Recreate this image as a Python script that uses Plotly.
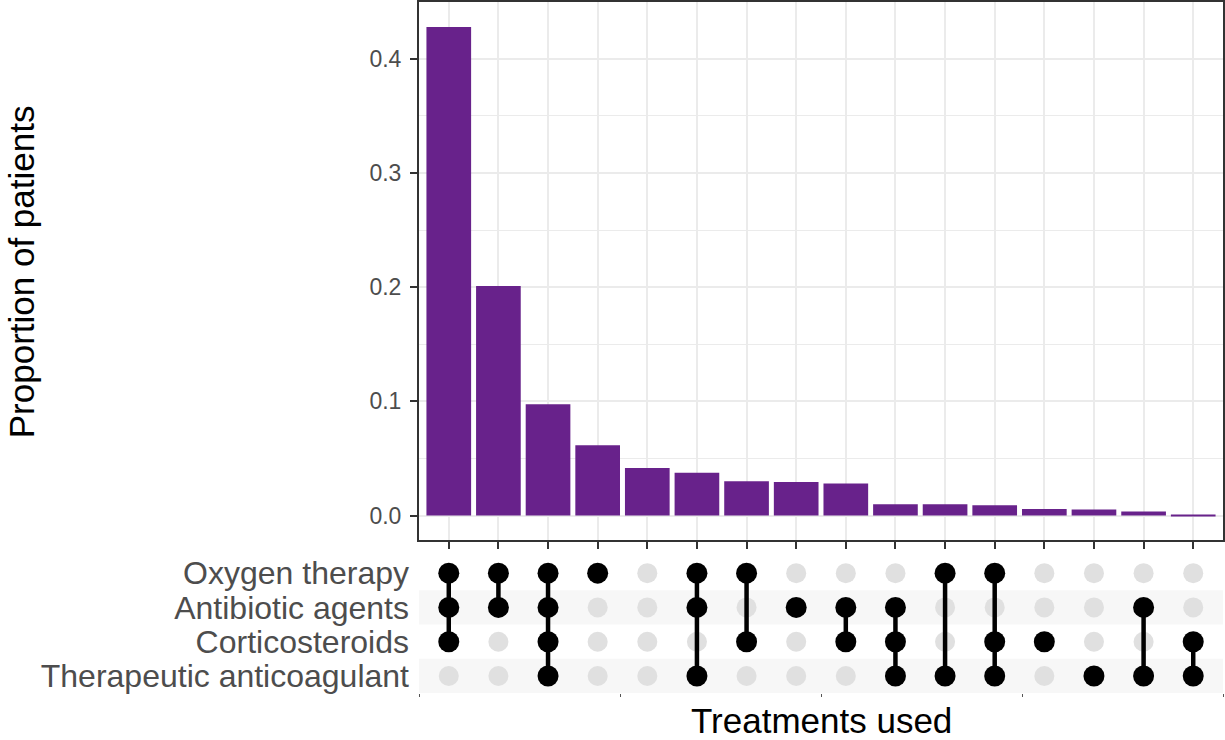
import plotly.graph_objects as go

# treatment sets, top to bottom in the matrix
set_names = ["Oxygen therapy", "Antibiotic agents", "Corticosteroids", "Therapeutic anticoagulant"]

# proportion of patients for each treatment combination (bar order)
proportions = [0.428, 0.201, 0.0976, 0.0616, 0.0417, 0.0375, 0.0300, 0.0294,
               0.0282, 0.0099, 0.0099, 0.0090, 0.0057, 0.0054, 0.0036, 0.0009]

# which treatments make up each combination
combos = [
    ["Oxygen therapy", "Antibiotic agents", "Corticosteroids"],
    ["Oxygen therapy", "Antibiotic agents"],
    ["Oxygen therapy", "Antibiotic agents", "Corticosteroids", "Therapeutic anticoagulant"],
    ["Oxygen therapy"],
    [],
    ["Oxygen therapy", "Antibiotic agents", "Therapeutic anticoagulant"],
    ["Oxygen therapy", "Corticosteroids"],
    ["Antibiotic agents"],
    ["Antibiotic agents", "Corticosteroids"],
    ["Antibiotic agents", "Corticosteroids", "Therapeutic anticoagulant"],
    ["Oxygen therapy", "Therapeutic anticoagulant"],
    ["Oxygen therapy", "Corticosteroids", "Therapeutic anticoagulant"],
    ["Corticosteroids"],
    ["Therapeutic anticoagulant"],
    ["Antibiotic agents", "Therapeutic anticoagulant"],
    ["Corticosteroids", "Therapeutic anticoagulant"],
]

W, H = 1225, 740
FONT = "Liberation Sans, Arial, Helvetica, sans-serif"
columns = list(range(1, len(proportions) + 1))
xrange_ = [0.4, len(columns) + 0.6]
xdom = [419 / W, 1223 / W]

fig = go.Figure()

fig.add_trace(go.Bar(x=columns, y=proportions, width=0.9,
                     marker=dict(color="#68228B", line_width=0),
                     xaxis="x", yaxis="y", hoverinfo="x+y"))

gx, gy, bx, by, lx, ly = [], [], [], [], [], []
for col, combo in zip(columns, combos):
    rows = [set_names.index(s) + 1 for s in combo]
    for r in range(1, len(set_names) + 1):
        if r in rows:
            bx.append(col)
            by.append(r)
        else:
            gx.append(col)
            gy.append(r)
    if len(rows) > 1:
        lx += [col, col, None]
        ly += [min(rows), max(rows), None]

fig.add_trace(go.Scatter(x=gx, y=gy, mode="markers",
                         marker=dict(size=20, color="#E0E0E0"),
                         xaxis="x2", yaxis="y2", hoverinfo="skip"))
fig.add_trace(go.Scatter(x=lx, y=ly, mode="lines",
                         line=dict(color="black", width=4.5),
                         xaxis="x2", yaxis="y2", hoverinfo="skip"))
fig.add_trace(go.Scatter(x=bx, y=by, mode="markers",
                         marker=dict(size=21, color="black"),
                         xaxis="x2", yaxis="y2", hoverinfo="skip"))

# alternating row stripes in the matrix
shapes = []
for i in range(len(set_names)):
    if i % 2 == 1:
        shapes.append(dict(type="rect", xref="paper", yref="y2",
                           x0=xdom[0], x1=xdom[1], y0=i + 0.5, y1=i + 1.5,
                           fillcolor="#F7F7F7", line_width=0, layer="below"))

span = xrange_[1] - xrange_[0]
quarter_ticks = [xrange_[0] + span * k / 4 for k in range(5)]

fig.update_layout(
    width=W, height=H,
    margin=dict(l=0, r=0, t=0, b=0),
    paper_bgcolor="white", plot_bgcolor="white",
    showlegend=False,
    font=dict(family=FONT, color="black"),
    shapes=shapes,
    xaxis=dict(domain=xdom, range=xrange_, anchor="y",
               tickvals=columns, showticklabels=False,
               ticks="outside", ticklen=7, tickwidth=2, tickcolor="#333333",
               showgrid=True, gridcolor="#EBEBEB", gridwidth=2,
               showline=True, mirror=True, linecolor="#333333", linewidth=2,
               zeroline=False),
    yaxis=dict(domain=[(H - 540.5) / H, (H - 1.5) / H], range=[-0.0214, 0.4494],
               anchor="x",
               tickvals=[0, 0.1, 0.2, 0.3, 0.4],
               ticktext=["0.0", "0.1", "0.2", "0.3", "0.4"],
               tickfont=dict(size=23, color="#4D4D4D"),
               ticks="outside", ticklen=7, tickwidth=2, tickcolor="#333333",
               ticklabelstandoff=4,
               showgrid=True, gridcolor="#EBEBEB", gridwidth=2,
               minor=dict(tickvals=[0.05, 0.15, 0.25, 0.35], showgrid=True,
                          gridcolor="#EBEBEB", gridwidth=1, ticks=""),
               showline=True, mirror=True, linecolor="#333333", linewidth=2,
               zeroline=False),
    xaxis2=dict(domain=xdom, range=xrange_, anchor="y2",
                tickvals=quarter_ticks, showticklabels=False,
                ticks="outside", ticklen=3, tickwidth=1, tickcolor="#555555",
                showgrid=False, zeroline=False, showline=False),
    yaxis2=dict(domain=[(H - 694) / H, (H - 556.5) / H], range=[len(set_names) + 0.5, 0.5],
                anchor="x2",
                tickvals=list(range(1, len(set_names) + 1)), ticktext=set_names,
                tickfont=dict(size=32, color="#4D4D4D"),
                ticks="", ticklabelstandoff=9,
                showgrid=False, zeroline=False, showline=False),
    annotations=[
        dict(text="Proportion of patients", xref="paper", yref="paper",
             x=21 / W, y=(H - 272) / H, xanchor="center", yanchor="middle",
             textangle=-90, showarrow=False, font=dict(size=35, color="black")),
        dict(text="Treatments used", xref="paper", yref="paper",
             x=821 / W, y=(H - 721) / H, xanchor="center", yanchor="middle",
             showarrow=False, font=dict(size=35, color="black")),
    ],
)

# drop the browser's default page margin so the figure fills the window
fig.write_html("out.html", config={"displayModeBar": False},
               post_script="document.body.style.margin = '0';")
